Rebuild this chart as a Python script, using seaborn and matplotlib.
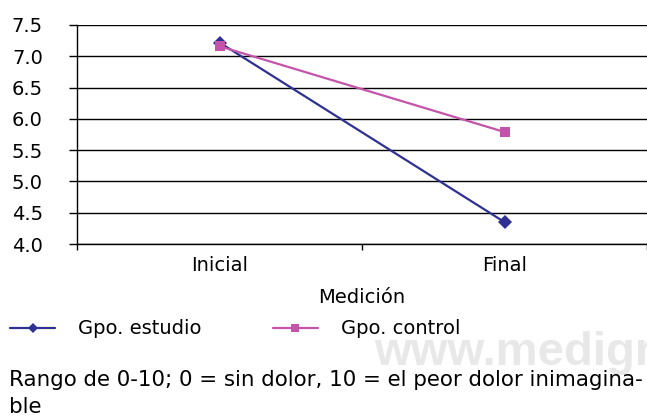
import matplotlib
matplotlib.use("Agg")
import matplotlib.pyplot as plt
import seaborn as sns
import pandas as pd

categorias = ["Inicial", "Final"]
gpo_estudio = [7.22, 4.35]
gpo_control = [7.16, 5.79]
series = ["Gpo. estudio", "Gpo. control"]
y_ticks = [4.0, 4.5, 5.0, 5.5, 6.0, 6.5, 7.0, 7.5]

df = pd.DataFrame({
    "Medición": categorias * 2,
    "valor": gpo_estudio + gpo_control,
    "grupo": [series[0]] * 2 + [series[1]] * 2,
})
df["x"] = df["Medición"].map({c: i for i, c in enumerate(categorias)})

sns.set_theme(style="white")
plt.rcParams["font.family"] = ["DejaVu Sans"]
plt.rcParams["text.color"] = "black"

W, H = 647, 416
fig = plt.figure(figsize=(W / 100, H / 100), dpi=100)
ax = fig.add_axes([77 / W, 1 - 244 / H, 1 - 77 / W, (244 - 25) / H])

palette = {series[0]: "#2E3192", series[1]: "#C454A9"}
markers = {series[0]: "D", series[1]: "s"}
sns.lineplot(data=df, x="x", y="valor", hue="grupo", style="grupo",
             palette=palette, markers=markers, dashes=False, ax=ax,
             linewidth=1.6, markersize=7, markeredgewidth=0, legend=True)
for ln in ax.lines:
    if ln.get_marker() == "s":
        ln.set_markersize(6.5)

FS = 14
ax.set_xlim(-0.5, 1.5)
ax.set_ylim(4.0, 7.5)
ax.set_yticks(y_ticks)
ax.set_yticklabels([f"{v:.1f}" for v in y_ticks], fontsize=FS)
ax.set_xticks([0, 1])
ax.set_xticklabels(categorias, fontsize=FS)
ax.set_xticks([-0.5, 0.5, 1.5], minor=True)
ax.tick_params(axis="x", which="major", length=0, pad=8.7, colors="black")
ax.tick_params(axis="x", which="minor", length=4.5, width=1, color="black", bottom=True)
ax.tick_params(axis="y", length=5.8, width=1, color="black", left=True, pad=18.7, colors="black")
ax.yaxis.grid(True, color="black", linewidth=1)
ax.set_axisbelow(True)
for s in ["top", "right"]:
    ax.spines[s].set_visible(False)
ax.spines["left"].set_color("black")
ax.spines["left"].set_linewidth(1)
ax.spines["bottom"].set_color("black")
ax.spines["bottom"].set_linewidth(1)
ax.set_xlabel("Medición", fontsize=FS, color="black")
ax.xaxis.label.set_va("baseline")
ax.xaxis.set_label_coords(0.5, (244 - 303) / 219)
ax.set_ylabel("")

handles, labels = ax.get_legend_handles_labels()
ax.get_legend().remove()
leg = fig.legend(handles, labels, loc="center left", bbox_to_anchor=(10 / W, 1 - 329 / H),
                 ncol=2, frameon=False, fontsize=FS, handlelength=2.32, handletextpad=1.19,
                 columnspacing=3.65, borderpad=0, borderaxespad=0, markerscale=0.8)
for t in leg.get_texts():
    t.set_color("black")

fig.text(374 / W, 1 - 365 / H, "www.medigraphic.org.mx", fontsize=34,
         family=["Liberation Sans", "DejaVu Sans"], fontweight="bold",
         color="#E8E8E8", va="baseline", ha="left", zorder=0)
fig.text(9 / W, 1 - 386 / H, "Rango de 0-10; 0 = sin dolor, 10 = el peor dolor inimagina-",
         fontsize=15.4, va="baseline", ha="left", color="black")
fig.text(9 / W, 1 - 413 / H, "ble", fontsize=15.4, va="baseline", ha="left", color="black")

fig.savefig("out.png", dpi=100)
